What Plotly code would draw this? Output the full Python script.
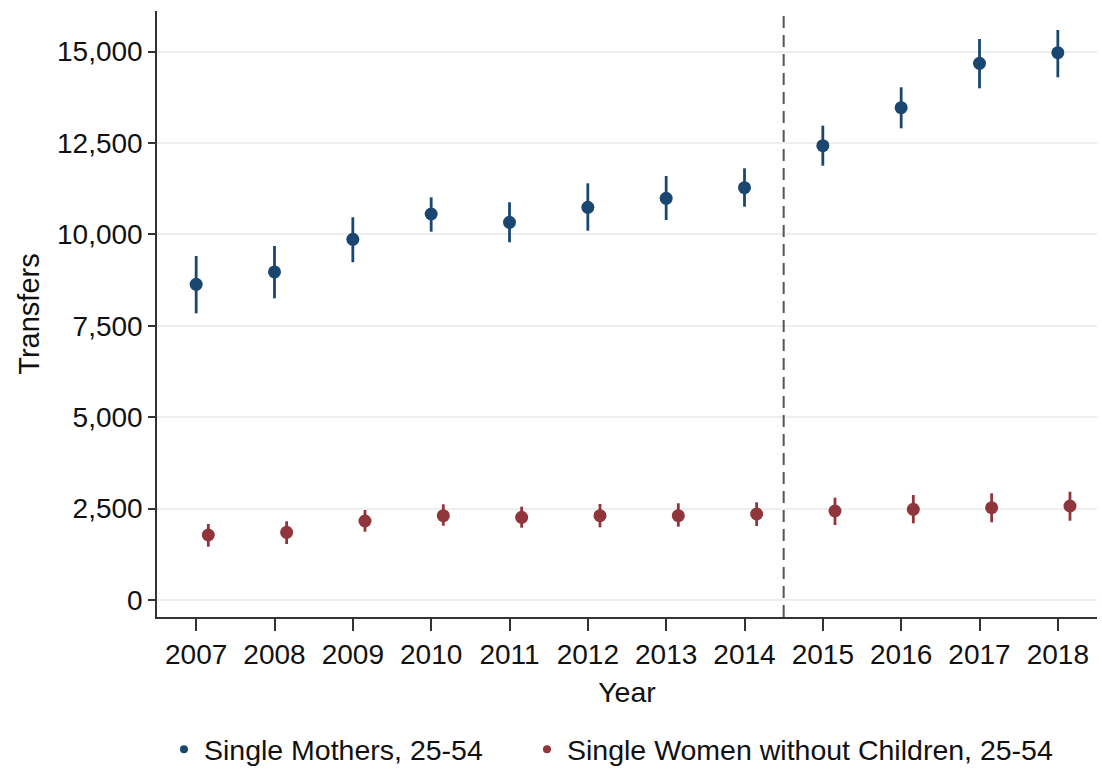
import plotly.graph_objects as go

# Annual transfers with confidence intervals, by household type
years = [2007, 2008, 2009, 2010, 2011, 2012, 2013, 2014, 2015, 2016, 2017, 2018]

mothers = [8635, 8972, 9866, 10558, 10331, 10741, 10987, 11278, 12427, 13465, 14679, 14970]
mothers_hi = [9409, 9683, 10468, 11014, 10878, 11397, 11597, 11808, 12974, 14023, 15345, 15590]
mothers_lo = [7840, 8252, 9237, 10074, 9784, 10101, 10394, 10757, 11879, 12902, 13996, 14297]

no_kids = [1778, 1852, 2161, 2306, 2262, 2306, 2306, 2352, 2434, 2480, 2525, 2571]
no_kids_hi = [2079, 2153, 2462, 2617, 2552, 2626, 2645, 2672, 2798, 2872, 2918, 2962]
no_kids_lo = [1458, 1532, 1868, 2032, 1978, 1988, 2005, 2024, 2051, 2097, 2125, 2169]

y_ticks = [0, 2500, 5000, 7500, 10000, 12500, 15000]
policy_break = 2014.5

NAVY = "#1a476f"
MAROON = "#90353b"
FONT = "Liberation Sans, Arial, sans-serif"
shift = 0.155  # horizontal nudge so the two series do not overlap


def ci_trace(x, y, hi, lo, color, name):
    return go.Scatter(
        x=x, y=y, mode="markers", name=name, showlegend=False,
        marker=dict(color=color, size=13, line=dict(width=0)),
        error_y=dict(type="data", symmetric=False,
                     array=[h - v for h, v in zip(hi, y)],
                     arrayminus=[v - l for v, l in zip(y, lo)],
                     color=color, thickness=2.8, width=0),
    )


fig = go.Figure()
fig.add_trace(ci_trace(years, mothers, mothers_hi, mothers_lo, NAVY,
                       "Single Mothers, 25-54"))
fig.add_trace(ci_trace([yr + shift for yr in years], no_kids, no_kids_hi, no_kids_lo,
                       MAROON, "Single Women without Children, 25-54"))

# legend-only entries with small dots, each in its own legend box
for color, name, leg in [(NAVY, "Single Mothers, 25-54", "legend"),
                         (MAROON, "Single Women without Children, 25-54", "legend2")]:
    fig.add_trace(go.Scatter(x=[None], y=[None], mode="markers", name=name,
                             legend=leg, marker=dict(color=color, size=8)))

fig.add_shape(type="line", x0=policy_break, x1=policy_break, xref="x",
              y0=0, y1=1, yref="paper",
              line=dict(color="#555555", width=2, dash="12px,7px"))

legend_style = dict(orientation="h", xanchor="left", y=-0.219, yanchor="middle",
                    font=dict(size=28.5), bgcolor="rgba(0,0,0,0)")

fig.update_layout(
    width=1102, height=774,
    margin=dict(l=157, r=5, t=11, b=157, autoexpand=False),
    paper_bgcolor="white", plot_bgcolor="white",
    font=dict(family=FONT, size=28, color="#111111"),
    showlegend=True,
    legend=dict(x=0.0074, **legend_style),
    legend2=dict(x=0.3936, **legend_style),
)

fig.update_xaxes(
    range=[2006.5, 2018.5], tickmode="array", tickvals=years,
    ticktext=[str(y) for y in years], automargin=False,
    showline=True, linecolor="#333333", linewidth=1.5,
    ticks="outside", ticklen=12, tickwidth=1.5, tickcolor="#333333",
    showgrid=False, zeroline=False,
    title=dict(text="Year", standoff=13, font=dict(size=28.5)),
)
fig.update_yaxes(
    range=[-465, 16110], tickmode="array", tickvals=y_ticks,
    tickformat=",", automargin=False,
    showline=True, linecolor="#333333", linewidth=1.5,
    ticks="outside", ticklen=7, tickwidth=1.5, tickcolor="#333333",
    showgrid=True, gridcolor="#eeeeee", gridwidth=1.5, zeroline=False,
    title=dict(text="Transfers", standoff=9, font=dict(size=29)),
)

fig.write_html("out.html")
